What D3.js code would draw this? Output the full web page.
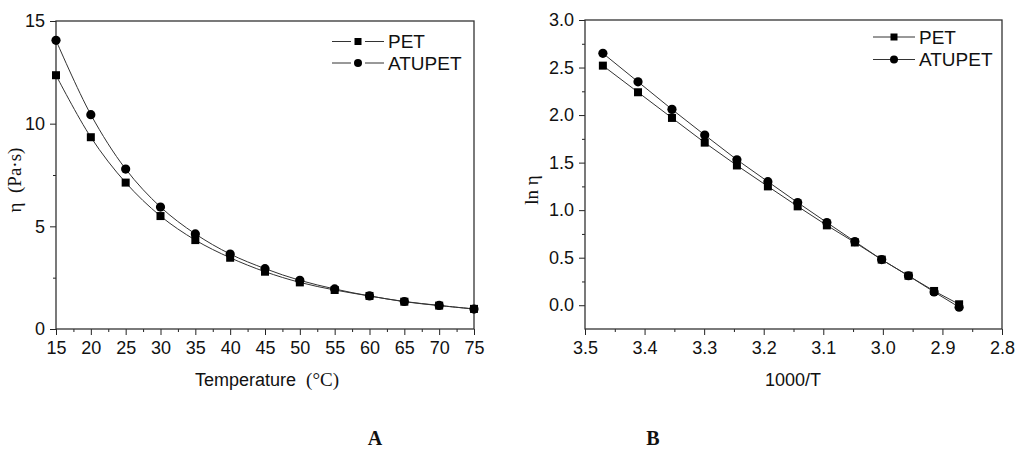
<!DOCTYPE html>
<html><head><meta charset="utf-8">
<script src="https://cdn.jsdelivr.net/npm/d3@7"></script>
<style>
body{margin:0;background:#fff;}
svg{display:block;}
</style></head>
<body>
<svg id="c" width="1015" height="450"></svg>
<script>
// ---- Data ----
const temperature = [15,20,25,30,35,40,45,50,55,60,65,70,75];
const etaPET    = [12.36,9.34,7.13,5.50,4.33,3.47,2.79,2.27,1.90,1.61,1.33,1.14,0.98];
const etaATUPET = [14.06,10.44,7.79,5.94,4.63,3.65,2.94,2.37,1.95,1.61,1.34,1.15,0.97];
const invT      = [3.470,3.411,3.354,3.299,3.245,3.193,3.143,3.094,3.047,3.002,2.957,2.914,2.872];
const lnPET     = [2.52,2.24,1.97,1.71,1.47,1.25,1.04,0.84,0.66,0.48,0.31,0.15,0.01];
const lnATUPET  = [2.65,2.35,2.06,1.79,1.53,1.30,1.08,0.87,0.67,0.48,0.31,0.14,-0.02];
const seriesNames = ["PET","ATUPET"];
const xTicksA = [15,20,25,30,35,40,45,50,55,60,65,70,75];
const yTicksA = [0,5,10,15];
const xTicksB = [3.5,3.4,3.3,3.2,3.1,3.0,2.9,2.8];
const yTicksB = [0.0,0.5,1.0,1.5,2.0,2.5,3.0];

const SANS = "'Liberation Sans',Arial,sans-serif";
const SERIF = "'Liberation Serif','Times New Roman',serif";
const svg = d3.select("#c");
const lineColor = "#333";

function drawPanel(cfg){
  const g = svg.append("g");
  const x = d3.scaleLinear().domain(cfg.xDomain).range([cfg.left, cfg.right]);
  const y = d3.scaleLinear().domain(cfg.yDomain).range([cfg.bottom, cfg.top]);

  const xMinor = g.append("g").attr("transform",`translate(0,${cfg.bottom})`)
    .call(d3.axisBottom(x).tickValues(cfg.xMinor).tickSize(3).tickFormat(""));
  const yMinor = g.append("g").attr("transform",`translate(${cfg.left},0)`)
    .call(d3.axisLeft(y).tickValues(cfg.yMinor).tickSize(3).tickFormat(""));
  [xMinor,yMinor].forEach(a=>{a.select(".domain").remove();a.selectAll("line").attr("stroke","#222");});

  const xa = g.append("g").attr("transform",`translate(0,${cfg.bottom})`)
    .call(d3.axisBottom(x).tickValues(cfg.xTicks).tickSize(6).tickPadding(3).tickFormat(cfg.xFmt));
  const ya = g.append("g").attr("transform",`translate(${cfg.left},0)`)
    .call(d3.axisLeft(y).tickValues(cfg.yTicks).tickSize(6).tickPadding(5).tickFormat(cfg.yFmt));
  [xa,ya].forEach(a=>{
    a.select(".domain").remove();
    a.selectAll("line").attr("stroke","#222");
    a.selectAll("text").attr("font-size",18).attr("font-family",SANS).attr("fill","#111");
  });
  xa.selectAll("text").attr("dy","0.9em");

  g.append("rect").attr("x",cfg.left).attr("y",cfg.top)
    .attr("width",cfg.right-cfg.left).attr("height",cfg.bottom-cfg.top)
    .attr("fill","none").attr("stroke","#333").attr("stroke-width",1.3);

  const line = d3.line().x(d=>x(d[0])).y(d=>y(d[1])).curve(cfg.curve);
  cfg.series.forEach((s,i)=>{
    const pts = cfg.xs.map((v,k)=>[v,s[k]]);
    g.append("path").attr("d",line(pts)).attr("fill","none").attr("stroke",lineColor).attr("stroke-width",1);
    pts.forEach(p=>{
      if(i===0){
        g.append("rect").attr("x",x(p[0])-4).attr("y",y(p[1])-4).attr("width",8).attr("height",8).attr("fill","#000");
      } else {
        g.append("circle").attr("cx",x(p[0])).attr("cy",y(p[1])).attr("r",4.6).attr("fill","#000");
      }
    });
  });

  seriesNames.forEach((n,i)=>{
    const ly = cfg.legY[i];
    const lx0 = cfg.legX0, lx1 = cfg.legX1, mx = (lx0+lx1)/2;
    if(cfg.legGap){
      g.append("line").attr("x1",lx0).attr("x2",mx-7).attr("y1",ly).attr("y2",ly).attr("stroke",lineColor);
      g.append("line").attr("x1",mx+7).attr("x2",lx1).attr("y1",ly).attr("y2",ly).attr("stroke",lineColor);
    } else {
      g.append("line").attr("x1",lx0).attr("x2",lx1).attr("y1",ly).attr("y2",ly).attr("stroke",lineColor);
    }
    if(i===0) g.append("rect").attr("x",mx-3.5).attr("y",ly-3.5).attr("width",7).attr("height",7).attr("fill","#000");
    else g.append("circle").attr("cx",mx).attr("cy",ly).attr("r",4).attr("fill","#000");
    g.append("text").attr("x",lx1+4).attr("y",ly).attr("dy","0.36em").attr("font-size",19)
      .attr("font-family",SANS).attr("fill","#111").text(n);
  });
  return {g,x,y};
}

drawPanel({
  left:56,right:474,top:21,bottom:329,
  xDomain:[15,75], yDomain:[0,15],
  xTicks:xTicksA, yTicks:yTicksA,
  xMinor:d3.range(17.5,75,5), yMinor:[2.5,7.5,12.5],
  xFmt:d3.format("d"), yFmt:d3.format("d"),
  xs:temperature, series:[etaPET,etaATUPET],
  curve:d3.curveCatmullRom.alpha(0.5),
  legX0:332, legX1:384, legY:[41.5,63], legGap:true
});
drawPanel({
  left:585,right:1002,top:20,bottom:329,
  xDomain:[3.5,2.8], yDomain:[-0.25,3.0],
  xTicks:xTicksB, yTicks:yTicksB,
  xMinor:[3.45,3.35,3.25,3.15,3.05,2.95,2.85], yMinor:[0.25,0.75,1.25,1.75,2.25,2.75],
  xFmt:d3.format(".1f"), yFmt:d3.format(".1f"),
  xs:invT, series:[lnPET,lnATUPET],
  curve:d3.curveLinear,
  legX0:873, legX1:915, legY:[37,59.5], legGap:false
});

// axis titles
const tA = svg.append("text").attr("x",267).attr("y",386).attr("text-anchor","middle")
  .attr("font-size",18).attr("font-family",SANS).attr("fill","#111");
tA.append("tspan").text("Temperature\u00a0\u00a0");
tA.append("tspan").attr("font-family",SERIF).attr("font-size",19).text("(\u00b0C)");

svg.append("text").attr("transform","translate(21,180) rotate(-90)").attr("text-anchor","middle")
  .attr("font-family",SERIF).attr("font-size",19).attr("fill","#111").text("\u03b7\u00a0\u00a0(Pa\u00b7s)");

svg.append("text").attr("x",793).attr("y",386).attr("text-anchor","middle")
  .attr("font-size",18).attr("font-family",SANS).attr("fill","#111").text("1000/T");
svg.append("text").attr("transform","translate(538,190) rotate(-90)").attr("text-anchor","middle")
  .attr("font-family",SERIF).attr("font-size",19).attr("fill","#111").text("ln \u03b7");

// panel letters
svg.append("text").attr("x",375).attr("y",445).attr("text-anchor","middle")
  .attr("font-family",SERIF).attr("font-weight","bold").attr("font-size",20).attr("fill","#111").text("A");
svg.append("text").attr("x",653).attr("y",445).attr("text-anchor","middle")
  .attr("font-family",SERIF).attr("font-weight","bold").attr("font-size",20).attr("fill","#111").text("B");
</script>
</body></html>
